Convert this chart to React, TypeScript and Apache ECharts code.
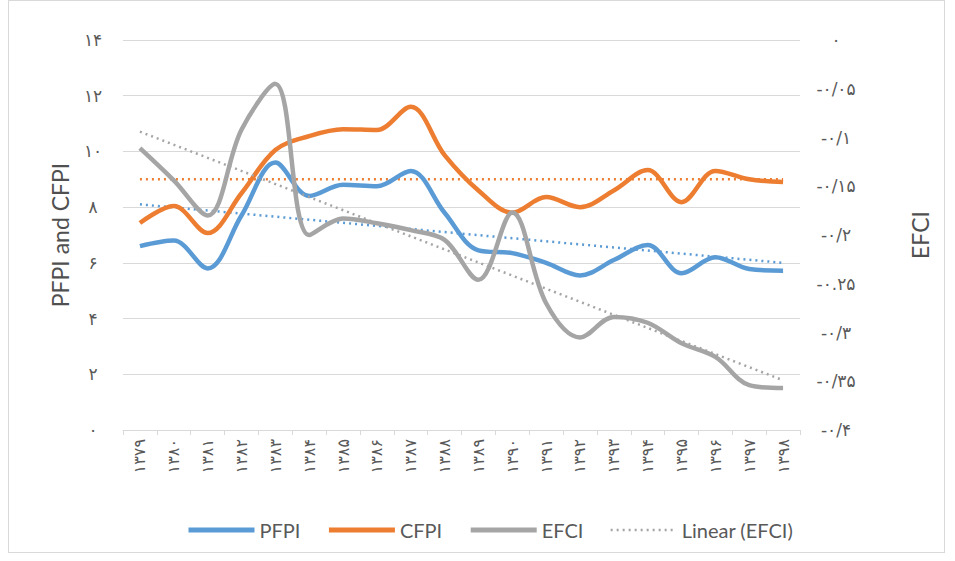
import React, { useEffect, useRef } from "react";
import * as echarts from "echarts";

const categories = ["۱۳۷۹","۱۳۸۰","۱۳۸۱","۱۳۸۲","۱۳۸۳","۱۳۸۴","۱۳۸۵","۱۳۸۶","۱۳۸۷","۱۳۸۸","۱۳۸۹","۱۳۹۰","۱۳۹۱","۱۳۹۲","۱۳۹۳","۱۳۹۴","۱۳۹۵","۱۳۹۶","۱۳۹۷","۱۳۹۸"];
const pfpi = [6.6, 6.8, 5.8, 7.7, 9.6, 8.4, 8.8, 8.75, 9.3, 7.8, 6.45, 6.35, 6.0, 5.55, 6.1, 6.64, 5.63, 6.2, 5.78, 5.72];
const cfpi = [7.43, 8.04, 7.07, 8.5, 10.05, 10.55, 10.8, 10.77, 11.6, 9.87, 8.6, 7.8, 8.36, 8.0, 8.6, 9.33, 8.18, 9.3, 9.0, 8.9];
const efci = [-0.111, -0.144, -0.18, -0.092, -0.045, -0.2, -0.183, -0.188, -0.195, -0.205, -0.246, -0.177, -0.27, -0.305, -0.284, -0.29, -0.311, -0.325, -0.354, -0.357];
// trend line endpoints (first and last category)
const pfpiTrend = [8.1, 6.0];
const cfpiTrend = [9.0, 9.0];
const efciTrend = [-0.094, -0.349];
const leftLabels = ["۰", "۲", "۴", "۶", "۸", "۱۰", "۱۲", "۱۴"];
const rightLabels = ["۰", "-۰/۰۵", "-۰/۱", "-۰/۱۵", "-۰/۲", "-۰.۲۵", "-۰/۳", "-۰/۳۵", "-۰/۴"];

const BLUE = "#5B9BD5";
const ORANGE = "#ED7D31";
const GRAY = "#A5A5A5";
const FONT = "DejaVu Sans";
const LATIN = "Lato";

export default function App() {
  const ref = useRef<HTMLDivElement>(null);
  useEffect(() => {
    const chart = echarts.init(ref.current!, null, { renderer: "svg" });
    const last = categories.length - 1;
    const trend = (v: number[]) => [[0, v[0]], [last, v[1]]];
    chart.setOption({
      animation: false,
      backgroundColor: "#ffffff",
      textStyle: { fontFamily: FONT },
      grid: { left: 123, right: 155, top: 40, bottom: 131 },
      legend: {
        top: 515,
        left: 181,
        itemWidth: 66,
        itemHeight: 10,
        itemGap: 26,
        itemStyle: { opacity: 0 },
        textStyle: { color: "#595959", fontSize: 20, fontFamily: LATIN },
        data: [
          { name: "PFPI", lineStyle: { width: 5 } },
          { name: "CFPI", lineStyle: { width: 5 } },
          { name: "EFCI", lineStyle: { width: 5 } },
          { name: "Linear (EFCI)", lineStyle: { width: 2.5 } },
        ],
      },
      xAxis: {
        type: "category",
        data: categories,
        boundaryGap: true,
        axisLine: { lineStyle: { color: "#d9d9d9", width: 1 } },
        axisTick: { show: true, length: 5, lineStyle: { color: "#d9d9d9" } },
        axisLabel: { rotate: 90, color: "#595959", fontSize: 16, margin: 9, interval: 0 },
        splitLine: { show: false },
      },
      yAxis: [
        {
          type: "value",
          min: 0,
          max: 14,
          interval: 2,
          name: "PFPI and CFPI",
          nameLocation: "middle",
          nameGap: 52,
          nameTextStyle: { color: "#505050", fontSize: 23, fontFamily: LATIN },
          axisLine: { show: false },
          axisTick: { show: false },
          axisLabel: {
            color: "#595959",
            fontSize: 17,
            align: "center",
            margin: 30,
            formatter: (v: number) => leftLabels[Math.round(v / 2)] ?? "",
          },
          splitLine: { lineStyle: { color: "#d9d9d9", width: 1 } },
        },
        {
          type: "value",
          min: -0.4,
          max: 0,
          interval: 0.05,
          name: "EFCI",
          nameLocation: "middle",
          nameGap: 108,
          nameRotate: 90,
          nameTextStyle: { color: "#505050", fontSize: 23, fontFamily: LATIN },
          axisLine: { show: false },
          axisTick: { show: false },
          axisLabel: {
            color: "#595959",
            fontSize: 17,
            align: "center",
            margin: 36,
            formatter: (v: number) => rightLabels[Math.round(-v / 0.05)] ?? "",
          },
          splitLine: { show: false },
        },
      ],
      series: [
        {
          name: "PFPI trend",
          type: "line",
          data: trend(pfpiTrend),
          yAxisIndex: 0,
          symbol: "none",
          lineStyle: { color: BLUE, width: 2.5, type: [2, 4] },
          itemStyle: { color: BLUE },
          z: 1,
        },
        {
          name: "CFPI trend",
          type: "line",
          data: trend(cfpiTrend),
          yAxisIndex: 0,
          symbol: "none",
          lineStyle: { color: ORANGE, width: 2.5, type: [2, 4] },
          itemStyle: { color: ORANGE },
          z: 1,
        },
        {
          name: "PFPI",
          type: "line",
          data: pfpi,
          yAxisIndex: 0,
          smooth: 0.35,
          symbol: "none",
          lineStyle: { color: BLUE, width: 4.5 },
          itemStyle: { color: BLUE },
          z: 2,
        },
        {
          name: "CFPI",
          type: "line",
          data: cfpi,
          yAxisIndex: 0,
          smooth: 0.35,
          symbol: "none",
          lineStyle: { color: ORANGE, width: 4.5 },
          itemStyle: { color: ORANGE },
          z: 2,
        },
        {
          name: "EFCI",
          type: "line",
          data: efci,
          yAxisIndex: 1,
          smooth: 0.35,
          symbol: "none",
          lineStyle: { color: GRAY, width: 4.5 },
          itemStyle: { color: GRAY },
          z: 2,
        },
        {
          name: "Linear (EFCI)",
          type: "line",
          data: trend(efciTrend),
          yAxisIndex: 1,
          symbol: "none",
          lineStyle: { color: GRAY, width: 2.5, type: [2, 4] },
          itemStyle: { color: GRAY },
          z: 3,
        },
      ],
    });
    return () => chart.dispose();
  }, []);
  return (
    <div style={{ position: "fixed", left: 0, top: 0, width: 955, height: 561, background: "#fff" }}>
      <div ref={ref} style={{ position: "absolute", left: 0, top: 0, width: 955, height: 561 }} />
      <div
        style={{
          position: "absolute",
          left: 8,
          top: 0,
          width: 937,
          height: 553,
          border: "1px solid #d9d9d9",
          pointerEvents: "none",
          boxSizing: "border-box",
        }}
      />
    </div>
  );
}
